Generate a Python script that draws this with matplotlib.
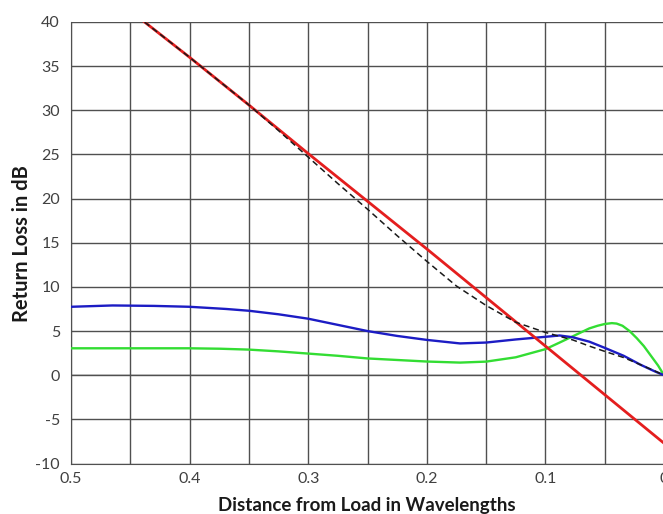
import numpy as np
import matplotlib.pyplot as plt
from matplotlib.ticker import MultipleLocator

plt.rcParams['font.family'] = ['Lato', 'DejaVu Sans']
plt.rcParams['axes.unicode_minus'] = False

# distance from load (wavelengths) and return loss (dB)
red_x = [0.438, 0.4, 0.35, 0.3, 0.25, 0.2, 0.15, 0.1, 0.05, 0.0]
red_y = [40.0, 36.0, 30.6, 25.1, 19.7, 14.3, 8.8, 3.3, -2.2, -7.7]

black_x = [0.438, 0.4, 0.35, 0.325, 0.3, 0.275, 0.25, 0.225, 0.2, 0.175, 0.15, 0.125,
           0.1, 0.088, 0.077, 0.063, 0.05, 0.034, 0.02, 0.008, 0.0]
black_y = [40.0, 36.0, 30.6, 27.7, 24.7, 21.7, 18.8, 15.8, 12.9, 10.1, 7.9, 6.0,
           4.85, 4.4, 4.0, 3.3, 2.7, 2.0, 1.2, 0.5, 0.0]

blue_x = [0.5, 0.465, 0.43, 0.4, 0.369, 0.35, 0.325, 0.3, 0.275, 0.25, 0.225, 0.2, 0.172,
          0.15, 0.125, 0.1, 0.088, 0.077, 0.063, 0.05, 0.034, 0.02, 0.008, 0.0]
blue_y = [7.75, 7.9, 7.85, 7.75, 7.5, 7.3, 6.9, 6.4, 5.7, 5.0, 4.45, 4.0, 3.6,
          3.7, 4.05, 4.35, 4.5, 4.3, 3.8, 3.1, 2.2, 1.2, 0.45, 0.0]

green_x = [0.5, 0.4, 0.374, 0.35, 0.325, 0.3, 0.275, 0.25, 0.2, 0.172, 0.15, 0.125,
           0.1, 0.088, 0.077, 0.063, 0.056, 0.05, 0.044, 0.04, 0.035, 0.029, 0.023,
           0.017, 0.011, 0.005, 0.0]
green_y = [3.05, 3.05, 3.0, 2.9, 2.7, 2.45, 2.2, 1.9, 1.55, 1.43, 1.54, 2.03,
           2.95, 3.7, 4.4, 5.3, 5.6, 5.8, 5.9, 5.85, 5.6, 5.0, 4.2,
           3.3, 2.2, 1.1, 0.0]

fig = plt.figure(figsize=(6.63, 5.14), dpi=100)
ax = fig.add_axes([0.1071, 0.0982, 0.8944, 0.859])

grid_col = '#505050'
ax.set_xlim(0.5, 0.0)
ax.set_ylim(-10, 40)
ax.xaxis.set_major_locator(MultipleLocator(0.1))
ax.xaxis.set_minor_locator(MultipleLocator(0.05))
ax.yaxis.set_major_locator(MultipleLocator(5))
ax.grid(True, which='both', color=grid_col, linewidth=1.0)
ax.axhline(0, color='#c8c8c8', linewidth=1.2, zorder=1.5)
ax.axhline(40, color='#b0b0b0', linewidth=1.2, zorder=1.5)

ax.plot(green_x, green_y, color='#33dd33', linewidth=1.7, zorder=3)
ax.plot(blue_x, blue_y, color='#1c1cc4', linewidth=1.7, zorder=4)
ax.plot(red_x, red_y, color='#e41e1e', linewidth=2.0, zorder=5)
ax.plot(black_x, black_y, color='#1a1a1a', linewidth=1.1, linestyle=(0, (4, 2.5)), zorder=6)

for s in ['top', 'right']:
    ax.spines[s].set_visible(False)
ax.spines['left'].set_color(grid_col)
ax.spines['bottom'].set_color(grid_col)

ax.tick_params(which='both', length=0, labelsize=11.5, labelcolor='#404040')
ax.tick_params(axis='x', pad=6)
ax.tick_params(axis='y', pad=8)
ax.set_xticks([0.5, 0.4, 0.3, 0.2, 0.1, 0.0])
ax.set_xticklabels(['0.5', '0.4', '0.3', '0.2', '0.1', '0'])

fig.text(0.553, 0.017, 'Distance from Load in Wavelengths', ha='center', va='center',
         fontsize=13.5, fontweight='bold', color='#1a1a1a')
fig.text(0.033, 0.526, 'Return Loss in dB', ha='center', va='center', rotation=90,
         fontsize=14.5, fontweight='bold', color='#1a1a1a')

fig.savefig('out.png', dpi=100)
